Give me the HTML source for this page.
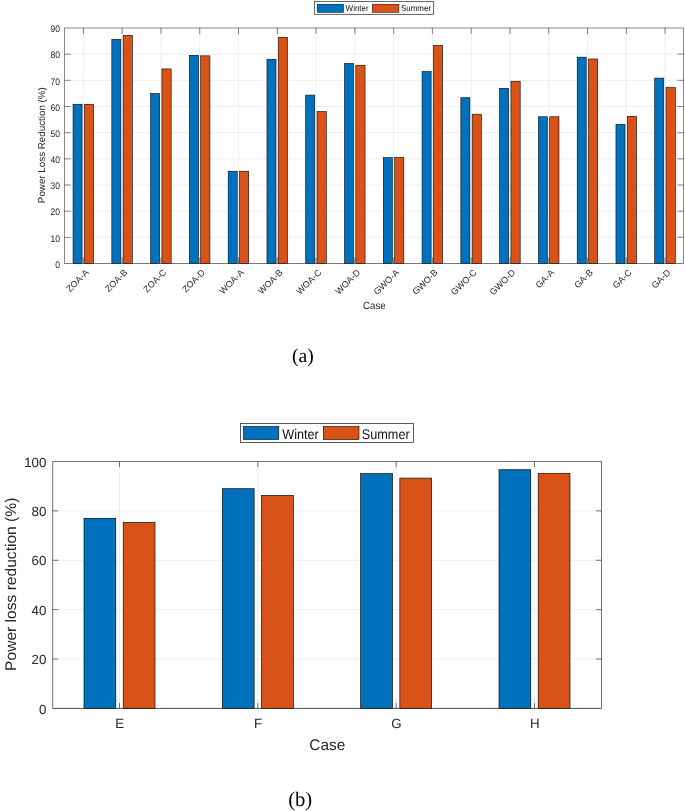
<!DOCTYPE html>
<html lang="en"><head><meta charset="utf-8"><title>Power loss reduction charts</title>
<style>html,body{margin:0;padding:0;background:#fff}body{width:685px;height:811px;overflow:hidden}</style>
</head><body>
<svg width="685" height="811" viewBox="0 0 685 811" style="display:block" text-rendering="geometricPrecision">
<rect width="685" height="811" fill="#fff"/>
<g id="chart-a">
<g stroke="#e0e0e0" stroke-width="0.55" fill="none">
<line x1="83.4" y1="28.0" x2="83.4" y2="263.5"/>
<line x1="122.18" y1="28.0" x2="122.18" y2="263.5"/>
<line x1="160.96" y1="28.0" x2="160.96" y2="263.5"/>
<line x1="199.74" y1="28.0" x2="199.74" y2="263.5"/>
<line x1="238.52" y1="28.0" x2="238.52" y2="263.5"/>
<line x1="277.3" y1="28.0" x2="277.3" y2="263.5"/>
<line x1="316.08" y1="28.0" x2="316.08" y2="263.5"/>
<line x1="354.86" y1="28.0" x2="354.86" y2="263.5"/>
<line x1="393.64" y1="28.0" x2="393.64" y2="263.5"/>
<line x1="432.42" y1="28.0" x2="432.42" y2="263.5"/>
<line x1="471.2" y1="28.0" x2="471.2" y2="263.5"/>
<line x1="509.98" y1="28.0" x2="509.98" y2="263.5"/>
<line x1="548.76" y1="28.0" x2="548.76" y2="263.5"/>
<line x1="587.54" y1="28.0" x2="587.54" y2="263.5"/>
<line x1="626.32" y1="28.0" x2="626.32" y2="263.5"/>
<line x1="665.1" y1="28.0" x2="665.1" y2="263.5"/>
<line x1="64.5" y1="237.33" x2="683.5" y2="237.33"/>
<line x1="64.5" y1="211.17" x2="683.5" y2="211.17"/>
<line x1="64.5" y1="185" x2="683.5" y2="185"/>
<line x1="64.5" y1="158.83" x2="683.5" y2="158.83"/>
<line x1="64.5" y1="132.67" x2="683.5" y2="132.67"/>
<line x1="64.5" y1="106.5" x2="683.5" y2="106.5"/>
<line x1="64.5" y1="80.33" x2="683.5" y2="80.33"/>
<line x1="64.5" y1="54.17" x2="683.5" y2="54.17"/>
</g>
<g stroke="#262626" stroke-width="0.55" fill="none">
<path d="M64.5 263.5V28.0H683.5V263.5"/>
<line x1="83.4" y1="28.0" x2="83.4" y2="34.0"/>
<line x1="83.4" y1="263.5" x2="83.4" y2="257.5"/>
<line x1="122.18" y1="28.0" x2="122.18" y2="34.0"/>
<line x1="122.18" y1="263.5" x2="122.18" y2="257.5"/>
<line x1="160.96" y1="28.0" x2="160.96" y2="34.0"/>
<line x1="160.96" y1="263.5" x2="160.96" y2="257.5"/>
<line x1="199.74" y1="28.0" x2="199.74" y2="34.0"/>
<line x1="199.74" y1="263.5" x2="199.74" y2="257.5"/>
<line x1="238.52" y1="28.0" x2="238.52" y2="34.0"/>
<line x1="238.52" y1="263.5" x2="238.52" y2="257.5"/>
<line x1="277.3" y1="28.0" x2="277.3" y2="34.0"/>
<line x1="277.3" y1="263.5" x2="277.3" y2="257.5"/>
<line x1="316.08" y1="28.0" x2="316.08" y2="34.0"/>
<line x1="316.08" y1="263.5" x2="316.08" y2="257.5"/>
<line x1="354.86" y1="28.0" x2="354.86" y2="34.0"/>
<line x1="354.86" y1="263.5" x2="354.86" y2="257.5"/>
<line x1="393.64" y1="28.0" x2="393.64" y2="34.0"/>
<line x1="393.64" y1="263.5" x2="393.64" y2="257.5"/>
<line x1="432.42" y1="28.0" x2="432.42" y2="34.0"/>
<line x1="432.42" y1="263.5" x2="432.42" y2="257.5"/>
<line x1="471.2" y1="28.0" x2="471.2" y2="34.0"/>
<line x1="471.2" y1="263.5" x2="471.2" y2="257.5"/>
<line x1="509.98" y1="28.0" x2="509.98" y2="34.0"/>
<line x1="509.98" y1="263.5" x2="509.98" y2="257.5"/>
<line x1="548.76" y1="28.0" x2="548.76" y2="34.0"/>
<line x1="548.76" y1="263.5" x2="548.76" y2="257.5"/>
<line x1="587.54" y1="28.0" x2="587.54" y2="34.0"/>
<line x1="587.54" y1="263.5" x2="587.54" y2="257.5"/>
<line x1="626.32" y1="28.0" x2="626.32" y2="34.0"/>
<line x1="626.32" y1="263.5" x2="626.32" y2="257.5"/>
<line x1="665.1" y1="28.0" x2="665.1" y2="34.0"/>
<line x1="665.1" y1="263.5" x2="665.1" y2="257.5"/>
<line x1="64.5" y1="237.33" x2="70.5" y2="237.33"/>
<line x1="683.5" y1="237.33" x2="677.5" y2="237.33"/>
<line x1="64.5" y1="211.17" x2="70.5" y2="211.17"/>
<line x1="683.5" y1="211.17" x2="677.5" y2="211.17"/>
<line x1="64.5" y1="185" x2="70.5" y2="185"/>
<line x1="683.5" y1="185" x2="677.5" y2="185"/>
<line x1="64.5" y1="158.83" x2="70.5" y2="158.83"/>
<line x1="683.5" y1="158.83" x2="677.5" y2="158.83"/>
<line x1="64.5" y1="132.67" x2="70.5" y2="132.67"/>
<line x1="683.5" y1="132.67" x2="677.5" y2="132.67"/>
<line x1="64.5" y1="106.5" x2="70.5" y2="106.5"/>
<line x1="683.5" y1="106.5" x2="677.5" y2="106.5"/>
<line x1="64.5" y1="80.33" x2="70.5" y2="80.33"/>
<line x1="683.5" y1="80.33" x2="677.5" y2="80.33"/>
<line x1="64.5" y1="54.17" x2="70.5" y2="54.17"/>
<line x1="683.5" y1="54.17" x2="677.5" y2="54.17"/>
</g>
<g stroke="#000" stroke-width="0.58">
<rect x="73.05" y="104.25" width="9.05" height="159.25" fill="#0072BD"/>
<rect x="84.35" y="104.25" width="9.25" height="159.25" fill="#D95319"/>
<rect x="111.83" y="39.37" width="9.05" height="224.13" fill="#0072BD"/>
<rect x="123.13" y="35.45" width="9.25" height="228.05" fill="#D95319"/>
<rect x="150.61" y="93.52" width="9.05" height="169.98" fill="#0072BD"/>
<rect x="161.91" y="68.93" width="9.25" height="194.57" fill="#D95319"/>
<rect x="189.39" y="55.33" width="9.05" height="208.17" fill="#0072BD"/>
<rect x="200.69" y="55.85" width="9.25" height="207.65" fill="#D95319"/>
<rect x="228.17" y="171.22" width="9.05" height="92.28" fill="#0072BD"/>
<rect x="239.47" y="171.22" width="9.25" height="92.28" fill="#D95319"/>
<rect x="266.95" y="59.25" width="9.05" height="204.25" fill="#0072BD"/>
<rect x="278.25" y="37.28" width="9.25" height="226.22" fill="#D95319"/>
<rect x="305.73" y="95.09" width="9.05" height="168.41" fill="#0072BD"/>
<rect x="317.03" y="111.57" width="9.25" height="151.93" fill="#D95319"/>
<rect x="344.51" y="63.44" width="9.05" height="200.06" fill="#0072BD"/>
<rect x="355.81" y="65.27" width="9.25" height="198.23" fill="#D95319"/>
<rect x="383.29" y="157.61" width="9.05" height="105.89" fill="#0072BD"/>
<rect x="394.59" y="157.61" width="9.25" height="105.89" fill="#D95319"/>
<rect x="422.07" y="71.55" width="9.05" height="191.95" fill="#0072BD"/>
<rect x="433.37" y="45.39" width="9.25" height="218.11" fill="#D95319"/>
<rect x="460.85" y="97.71" width="9.05" height="165.79" fill="#0072BD"/>
<rect x="472.15" y="114.19" width="9.25" height="149.31" fill="#D95319"/>
<rect x="499.63" y="88.29" width="9.05" height="175.21" fill="#0072BD"/>
<rect x="510.93" y="81.23" width="9.25" height="182.27" fill="#D95319"/>
<rect x="538.41" y="116.8" width="9.05" height="146.7" fill="#0072BD"/>
<rect x="549.71" y="116.8" width="9.25" height="146.7" fill="#D95319"/>
<rect x="577.19" y="57.16" width="9.05" height="206.34" fill="#0072BD"/>
<rect x="588.49" y="58.99" width="9.25" height="204.51" fill="#D95319"/>
<rect x="615.97" y="124.39" width="9.05" height="139.11" fill="#0072BD"/>
<rect x="627.27" y="116.28" width="9.25" height="147.22" fill="#D95319"/>
<rect x="654.75" y="78.09" width="9.05" height="185.41" fill="#0072BD"/>
<rect x="666.05" y="87.5" width="9.25" height="176" fill="#D95319"/>
</g>
<line x1="64.5" y1="263.5" x2="683.5" y2="263.5" stroke="#262626" stroke-width="0.62"/>
<g font-family="Liberation Sans, Arial, Helvetica, sans-serif" font-size="9.5" fill="#262626" text-anchor="end">
<text transform="translate(59.9,267.7) scale(0.9,1)">0</text>
<text transform="translate(59.9,241.53) scale(0.9,1)">10</text>
<text transform="translate(59.9,215.37) scale(0.9,1)">20</text>
<text transform="translate(59.9,189.2) scale(0.9,1)">30</text>
<text transform="translate(59.9,163.03) scale(0.9,1)">40</text>
<text transform="translate(59.9,136.87) scale(0.9,1)">50</text>
<text transform="translate(59.9,110.7) scale(0.9,1)">60</text>
<text transform="translate(59.9,84.53) scale(0.9,1)">70</text>
<text transform="translate(59.9,58.37) scale(0.9,1)">80</text>
<text transform="translate(59.9,32.2) scale(0.9,1)">90</text>
</g>
<g font-family="Liberation Sans, Arial, Helvetica, sans-serif" font-size="9" fill="#262626" text-anchor="end">
<text transform="translate(89.35,273.1) rotate(-45)">ZOA-A</text>
<text transform="translate(128.13,273.1) rotate(-45)">ZOA-B</text>
<text transform="translate(166.91,273.1) rotate(-45)">ZOA-C</text>
<text transform="translate(205.69,273.1) rotate(-45)">ZOA-D</text>
<text transform="translate(244.47,273.1) rotate(-45)">WOA-A</text>
<text transform="translate(283.25,273.1) rotate(-45)">WOA-B</text>
<text transform="translate(322.03,273.1) rotate(-45)">WOA-C</text>
<text transform="translate(360.81,273.1) rotate(-45)">WOA-D</text>
<text transform="translate(399.59,273.1) rotate(-45)">GWO-A</text>
<text transform="translate(438.37,273.1) rotate(-45)">GWO-B</text>
<text transform="translate(477.15,273.1) rotate(-45)">GWO-C</text>
<text transform="translate(515.93,273.1) rotate(-45)">GWO-D</text>
<text transform="translate(554.71,273.1) rotate(-45)">GA-A</text>
<text transform="translate(593.49,273.1) rotate(-45)">GA-B</text>
<text transform="translate(632.27,273.1) rotate(-45)">GA-C</text>
<text transform="translate(671.05,273.1) rotate(-45)">GA-D</text>
</g>
<text font-family="Liberation Sans, Arial, Helvetica, sans-serif" font-size="9.8" fill="#262626" text-anchor="middle" transform="translate(45,145.15) rotate(-90)">Power Loss Reduction (%)</text>
<text font-family="Liberation Sans, Arial, Helvetica, sans-serif" font-size="10.4" fill="#262626" text-anchor="middle" transform="translate(374.3,308.9) scale(0.94,1)">Case</text>
<rect x="314.5" y="1.4" width="119" height="12.9" fill="#fff" stroke="#262626" stroke-width="0.7"/>
<rect x="317.2" y="4.2" width="26.4" height="8.2" fill="#0072BD" stroke="#000" stroke-width="0.5"/>
<rect x="372.3" y="4.2" width="26.6" height="8.2" fill="#D95319" stroke="#000" stroke-width="0.5"/>
<text font-family="Liberation Sans, Arial, Helvetica, sans-serif" font-size="8.5" fill="#111" transform="translate(345.6,11) scale(0.94,1)">Winter</text>
<text font-family="Liberation Sans, Arial, Helvetica, sans-serif" font-size="8.5" fill="#111" transform="translate(400.9,11) scale(0.94,1)">Summer</text>
</g>
<text font-family="Liberation Serif, Times New Roman, serif" font-size="19.6" fill="#000" text-anchor="middle" x="302.8" y="362.1">(a)</text>
<g id="chart-b">
<g stroke="#e0e0e0" stroke-width="0.55" fill="none">
<line x1="119.5" y1="461.5" x2="119.5" y2="708.4"/>
<line x1="257.83" y1="461.5" x2="257.83" y2="708.4"/>
<line x1="396.16" y1="461.5" x2="396.16" y2="708.4"/>
<line x1="534.49" y1="461.5" x2="534.49" y2="708.4"/>
<line x1="52.7" y1="659.02" x2="601.5" y2="659.02"/>
<line x1="52.7" y1="609.64" x2="601.5" y2="609.64"/>
<line x1="52.7" y1="560.26" x2="601.5" y2="560.26"/>
<line x1="52.7" y1="510.88" x2="601.5" y2="510.88"/>
</g>
<g stroke="#262626" stroke-width="0.64" fill="none">
<path d="M52.7 708.4V461.5H601.5V708.4"/>
<line x1="119.5" y1="461.5" x2="119.5" y2="467.0"/>
<line x1="119.5" y1="708.4" x2="119.5" y2="702.9"/>
<line x1="257.83" y1="461.5" x2="257.83" y2="467.0"/>
<line x1="257.83" y1="708.4" x2="257.83" y2="702.9"/>
<line x1="396.16" y1="461.5" x2="396.16" y2="467.0"/>
<line x1="396.16" y1="708.4" x2="396.16" y2="702.9"/>
<line x1="534.49" y1="461.5" x2="534.49" y2="467.0"/>
<line x1="534.49" y1="708.4" x2="534.49" y2="702.9"/>
<line x1="52.7" y1="659.02" x2="58.2" y2="659.02"/>
<line x1="601.5" y1="659.02" x2="596.0" y2="659.02"/>
<line x1="52.7" y1="609.64" x2="58.2" y2="609.64"/>
<line x1="601.5" y1="609.64" x2="596.0" y2="609.64"/>
<line x1="52.7" y1="560.26" x2="58.2" y2="560.26"/>
<line x1="601.5" y1="560.26" x2="596.0" y2="560.26"/>
<line x1="52.7" y1="510.88" x2="58.2" y2="510.88"/>
<line x1="601.5" y1="510.88" x2="596.0" y2="510.88"/>
</g>
<g stroke="#000" stroke-width="0.65">
<rect x="84" y="518.27" width="31.8" height="190.13" fill="#0072BD"/>
<rect x="123.2" y="522.46" width="31.8" height="185.94" fill="#D95319"/>
<rect x="222.33" y="488.7" width="31.8" height="219.7" fill="#0072BD"/>
<rect x="261.53" y="495.36" width="31.8" height="213.04" fill="#D95319"/>
<rect x="360.66" y="473.67" width="31.8" height="234.73" fill="#0072BD"/>
<rect x="399.86" y="478.11" width="31.8" height="230.29" fill="#D95319"/>
<rect x="498.99" y="469.73" width="31.8" height="238.67" fill="#0072BD"/>
<rect x="538.19" y="473.3" width="31.8" height="235.1" fill="#D95319"/>
</g>
<line x1="52.7" y1="708.4" x2="601.5" y2="708.4" stroke="#262626" stroke-width="0.8"/>
<g font-family="Liberation Sans, Arial, Helvetica, sans-serif" font-size="13.3" fill="#262626" text-anchor="end">
<text x="46.4" y="713.5">0</text>
<text x="46.4" y="664.12">20</text>
<text x="46.4" y="614.74">40</text>
<text x="46.4" y="565.36">60</text>
<text x="46.4" y="515.98">80</text>
<text x="46.4" y="466.6">100</text>
</g>
<g font-family="Liberation Sans, Arial, Helvetica, sans-serif" font-size="13.3" fill="#262626" text-anchor="middle">
<text x="119.7" y="728.3">E</text>
<text x="258.03" y="728.3">F</text>
<text x="396.36" y="728.3">G</text>
<text x="534.69" y="728.3">H</text>
</g>
<text font-family="Liberation Sans, Arial, Helvetica, sans-serif" font-size="15.4" fill="#262626" text-anchor="middle" transform="translate(15.8,584.3) rotate(-90) scale(1.013,1)">Power loss reduction (%)</text>
<text font-family="Liberation Sans, Arial, Helvetica, sans-serif" font-size="15.4" fill="#262626" text-anchor="middle" x="327.3" y="749.7">Case</text>
<rect x="240.5" y="423.5" width="172.9" height="18.9" fill="#fff" stroke="#262626" stroke-width="0.75"/>
<rect x="243.5" y="426.5" width="35.3" height="13" fill="#0072BD" stroke="#000" stroke-width="0.6"/>
<rect x="323.3" y="426.5" width="35.7" height="13" fill="#D95319" stroke="#000" stroke-width="0.6"/>
<text font-family="Liberation Sans, Arial, Helvetica, sans-serif" font-size="14" fill="#111" transform="translate(282.2,438.8) scale(0.905,1)">Winter</text>
<text font-family="Liberation Sans, Arial, Helvetica, sans-serif" font-size="14" fill="#111" transform="translate(361.8,438.8) scale(0.905,1)">Summer</text>
</g>
<text font-family="Liberation Serif, Times New Roman, serif" font-size="20.7" fill="#000" text-anchor="middle" x="300.2" y="806.4">(b)</text>
</svg>
</body></html>
